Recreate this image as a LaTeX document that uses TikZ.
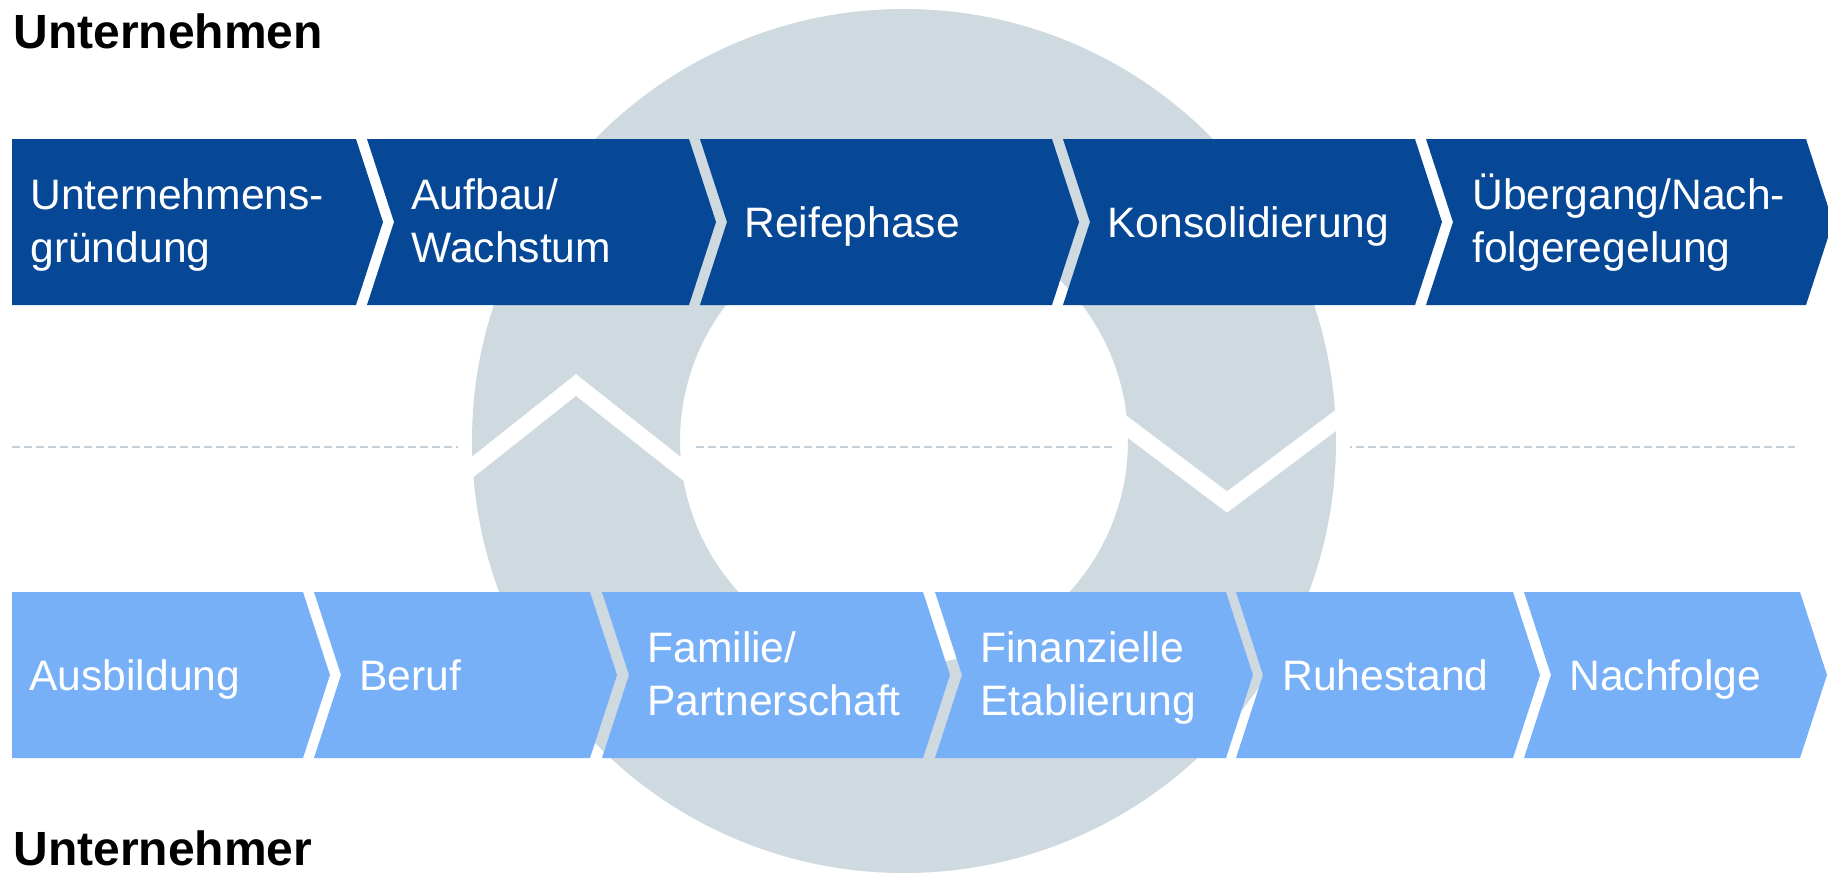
\documentclass[tikz,border=0pt]{standalone}
\usepackage{fontspec}
\setmainfont{Liberation Sans}
\usepackage{tikz}
\definecolor{darkblue}{HTML}{064796}
\definecolor{lightblue}{HTML}{78B0F8}
\definecolor{ringgray}{HTML}{CFD9E0}
\definecolor{dashgray}{HTML}{C5CFD8}

\begin{document}
\begin{tikzpicture}[x=0.5pt,y=-0.5pt,
    upper/.style={fill=darkblue},
    lower/.style={fill=lightblue},
    lbl/.style={anchor=base west,inner sep=0pt,align=left,text=white,
      font=\fontsize{21.3}{26.5}\selectfont},
    head/.style={anchor=base west,inner sep=0pt,
      font=\fontsize{24}{28}\selectfont\bfseries}]
    \useasboundingbox (0,0) rectangle (1828,873);
    % dashed middle line
    \draw[dashgray,line width=1pt,dash pattern=on 4pt off 2pt] (12,447) -- (1795,447);
    % ring behind the rows
    \fill[white,even odd rule] (904,441) circle[radius=446] (904,441) circle[radius=211];
    \fill[ringgray,even odd rule] (904,441) circle[radius=432] (904,441) circle[radius=224];
    % gaps in the ring
    \draw[white,line width=8.5pt] (455,481) -- (576,385) -- (700,483);
    \draw[white,line width=8.5pt] (1105,410) -- (1227,502) -- (1355,406);
    % upper row
    \fill[upper] (12,139) -- (356,139) -- (383,222) -- (356,305) -- (12,305) -- cycle;
    \fill[upper] (367,139) -- (689,139) -- (716,222) -- (689,305) -- (367,305) -- (394,222) -- cycle;
    \fill[upper] (700,139) -- (1052,139) -- (1079,222) -- (1052,305) -- (700,305) -- (727,222) -- cycle;
    \fill[upper] (1063,139) -- (1415,139) -- (1442,222) -- (1415,305) -- (1063,305) -- (1090,222) -- cycle;
    \fill[upper] (1426,139) -- (1806,139) -- (1833,222) -- (1806,305) -- (1426,305) -- (1453,222) -- cycle;
    \node[lbl] (u1) at (30,262) {Unternehmens-\\gründung};
    \node[lbl] (u2) at (411,262) {Aufbau/\\Wachstum};
    \node[lbl] (u3) at (744,237) {Reifephase};
    \node[lbl] (u4) at (1107,237) {Konsolidierung};
    \node[lbl] (u5) at (1472,262) {Übergang/Nach-\\folgeregelung};
    % lower row
    \fill[lower] (12,592) -- (303,592) -- (330,675) -- (303,758) -- (12,758) -- cycle;
    \fill[lower] (314,592) -- (590,592) -- (617,675) -- (590,758) -- (314,758) -- (341,675) -- cycle;
    \fill[lower] (602,592) -- (923,592) -- (950,675) -- (923,758) -- (602,758) -- (629,675) -- cycle;
    \fill[lower] (935,592) -- (1226,592) -- (1253,675) -- (1226,758) -- (935,758) -- (962,675) -- cycle;
    \fill[lower] (1236,592) -- (1513,592) -- (1540,675) -- (1513,758) -- (1236,758) -- (1263,675) -- cycle;
    \fill[lower] (1524,592) -- (1800,592) -- (1827,675) -- (1800,758) -- (1524,758) -- (1551,675) -- cycle;
    \node[lbl] (m1) at (29,690) {Ausbildung};
    \node[lbl] (m2) at (359,690) {Beruf};
    \node[lbl] (m3) at (647,715) {Familie/\\Partnerschaft};
    \node[lbl] (m4) at (980,715) {Finanzielle\\Etablierung};
    \node[lbl] (m5) at (1282,690) {Ruhestand};
    \node[lbl] (m6) at (1569,690) {Nachfolge};
    % headings
    \node[head] (uhead) at (13,48) {Unternehmen};
    \node[head] (mhead) at (13,865) {Unternehmer};
\end{tikzpicture}
\end{document}
